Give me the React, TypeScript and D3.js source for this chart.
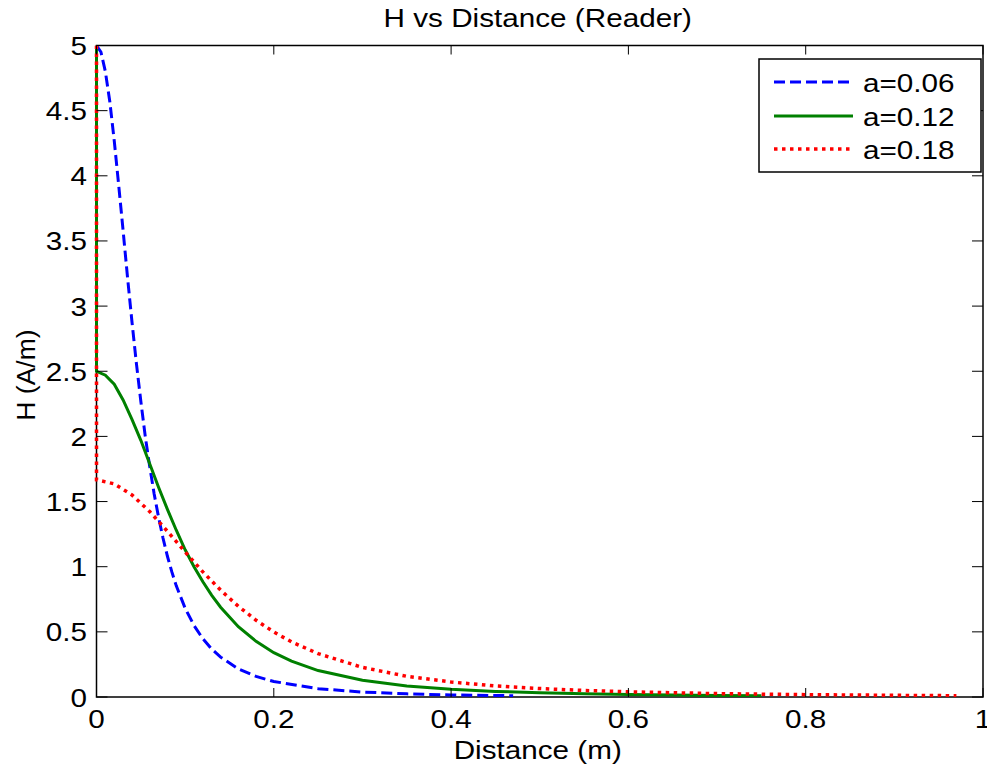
import * as React from 'react';
import * as d3 from 'd3';

const xTicks = [0, 0.2, 0.4, 0.6, 0.8, 1];
const yTicks = [0, 0.5, 1, 1.5, 2, 2.5, 3, 3.5, 4, 4.5, 5];

// a = 0.06
const distA = [0, 0.005, 0.01, 0.015, 0.02, 0.025, 0.03, 0.035, 0.04, 0.045, 0.05, 0.055, 0.06, 0.065, 0.07, 0.075, 0.08, 0.085, 0.09, 0.1, 0.11, 0.12, 0.13, 0.14, 0.16, 0.18, 0.2, 0.25, 0.3, 0.35, 0.4, 0.47];
const hA = [5, 4.95, 4.8, 4.57, 4.27, 3.93, 3.58, 3.22, 2.88, 2.56, 2.27, 2.0, 1.77, 1.56, 1.38, 1.22, 1.08, 0.96, 0.853, 0.681, 0.549, 0.447, 0.368, 0.306, 0.216, 0.158, 0.119, 0.064, 0.038, 0.024, 0.016, 0.01];

// a = 0.12
const distB = [0, 0, 0.01, 0.02, 0.03, 0.04, 0.05, 0.06, 0.07, 0.08, 0.09, 0.1, 0.11, 0.12, 0.13, 0.14, 0.16, 0.18, 0.2, 0.22, 0.25, 0.3, 0.35, 0.4, 0.45, 0.5, 0.55, 0.6, 0.65, 0.7, 0.75];
const hB = [5, 2.5, 2.47, 2.4, 2.28, 2.13, 1.97, 1.79, 1.61, 1.44, 1.28, 1.13, 1.0, 0.884, 0.78, 0.689, 0.54, 0.427, 0.34, 0.275, 0.203, 0.128, 0.085, 0.059, 0.043, 0.032, 0.024, 0.019, 0.015, 0.012, 0.01];

// a = 0.18
const distC = [0, 0, 0.02, 0.04, 0.06, 0.08, 0.1, 0.12, 0.14, 0.16, 0.18, 0.2, 0.22, 0.25, 0.3, 0.35, 0.4, 0.45, 0.5, 0.55, 0.6, 0.7, 0.8, 0.9, 0.97];
const hC = [5, 1.667, 1.636, 1.551, 1.423, 1.272, 1.113, 0.96, 0.82, 0.696, 0.589, 0.499, 0.423, 0.333, 0.227, 0.159, 0.115, 0.085, 0.065, 0.05, 0.04, 0.026, 0.018, 0.013, 0.01];

const seriesNames = ['a=0.06', 'a=0.12', 'a=0.18'];
const seriesColors = ['#0000ff', '#008000', '#ff0000'];
const seriesDash = ['11 5', null, '3.5 4.5'];

const W = 987;
const H = 771;
const left = 96.5;
const right = 983;
const top = 45.5;
const bottom = 697;
const FONT = 'Liberation Sans, Arial, Helvetica, sans-serif';
const FS = 26.5;

const SText = ({ x, y, anchor = 'start', rotate = 0, children, sx = 1.12 }) => (
  <text
    transform={`translate(${x},${y}) rotate(${rotate}) scale(${sx},1)`}
    textAnchor={anchor}
    fontFamily={FONT}
    fontSize={FS}
    fill='#000'>
    {children}
  </text>
);

const App = () => {
  const x = d3.scaleLinear().domain([0, 1]).range([left, right]);
  const y = d3.scaleLinear().domain([0, 5]).range([bottom, top]);
  const line = d3
    .line<[number, number]>()
    .x((d) => x(d[0]))
    .y((d) => y(d[1]));

  const series = [
    distA.map((d, i) => [d, hA[i]] as [number, number]),
    distB.map((d, i) => [d, hB[i]] as [number, number]),
    distC.map((d, i) => [d, hC[i]] as [number, number]),
  ];

  const legX = 759;
  const legY = 59;
  const legW = 222;
  const legH = 113;
  const rowY = [82, 116, 149];

  return (
    <svg width={W} height={H} style={{ position: 'absolute', left: 0, top: 0 }}>
      <rect x={0} y={0} width={W} height={H} fill='#fff' />
      <defs>
        <clipPath id='plotClip'>
          <rect x={left - 4} y={top} width={right - left + 8} height={bottom - top} />
        </clipPath>
      </defs>

      {/* axes box */}
      <rect x={left} y={top} width={right - left} height={bottom - top} fill='none' stroke='#000' strokeWidth={1.5} />

      {/* curves in plot order, the last one on top */}
      <g clipPath='url(#plotClip)'>
        {series.map((s, i) => (
          <path
            key={i}
            d={line(s)}
            fill='none'
            stroke={seriesColors[i]}
            strokeWidth={i === 2 ? 3.5 : 3}
            strokeDasharray={seriesDash[i] || undefined}
          />
        ))}
      </g>

      {yTicks.map((t) => (
        <g key={'y' + t}>
          <line x1={left} x2={left + 11} y1={y(t)} y2={y(t)} stroke='#000' />
          <line x1={right} x2={right - 11} y1={y(t)} y2={y(t)} stroke='#000' />
          <SText x={87} y={y(t) + 9.5} anchor='end'>{String(t)}</SText>
        </g>
      ))}
      {xTicks.map((t) => (
        <g key={'x' + t}>
          <line x1={x(t)} x2={x(t)} y1={bottom} y2={bottom - 9} stroke='#000' />
          <line x1={x(t)} x2={x(t)} y1={top} y2={top + 9} stroke='#000' />
          <SText x={x(t)} y={728} anchor='middle'>{String(t)}</SText>
        </g>
      ))}

      <SText x={(left + right) / 2 - 2} y={26.7} anchor='middle'>H vs Distance (Reader)</SText>
      <SText x={(left + right) / 2 - 2} y={759} anchor='middle'>Distance (m)</SText>
      <SText x={35} y={375} anchor='middle' rotate={-90} sx={1}>H (A/m)</SText>

      {/* legend */}
      <rect x={legX} y={legY} width={legW} height={legH} fill='#fff' stroke='#000' strokeWidth={1.5} />
      {seriesNames.map((name, i) => (
        <g key={name}>
          <line
            x1={774}
            x2={853}
            y1={rowY[i]}
            y2={rowY[i]}
            stroke={seriesColors[i]}
            strokeWidth={i === 2 ? 3.5 : 3}
            strokeDasharray={seriesDash[i] || undefined}
          />
          <SText x={863} y={rowY[i] + 10}>{name}</SText>
        </g>
      ))}
    </svg>
  );
};

export default App;
